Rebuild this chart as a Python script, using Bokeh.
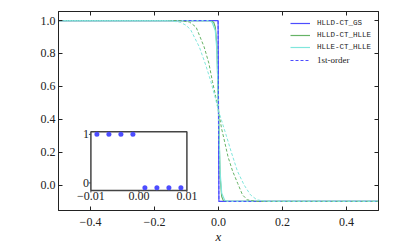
import math
from bokeh.plotting import figure
from bokeh.models import Range1d, LinearAxis, FixedTicker, Legend, LegendItem, Label, CustomLabelingPolicy
from bokeh.core.properties import value
from bokeh.embed import file_html
from bokeh.resources import INLINE

# ---- data ----
gs_x = [-0.5, -0.00125, 0.00125, 0.5]
gs_y = [1.0, 1.0, -0.1, -0.1]

hllde_x = [-0.5, -0.025, -0.015, -0.01, -0.005, 0.0, 0.005, 0.01, 0.015, 0.025, 0.5]
hllde_y = [1.0, 1.0, 0.99, 0.96, 0.85, 0.45, 0.05, -0.07, -0.095, -0.1, -0.1]

hlle_x = [-0.5, -0.03, -0.02, -0.01, -0.005, 0.0, 0.005, 0.01, 0.02, 0.03, 0.5]
hlle_y = [1.0, 1.0, 0.99, 0.94, 0.82, 0.45, 0.08, -0.05, -0.095, -0.1, -0.1]

gs1_x = [-0.5, -0.00125, 0.00125, 0.5]
gs1_y = [1.0, 1.0, -0.1, -0.1]

hllde1_x = [-0.5, -0.12, -0.09, -0.07, -0.045, -0.03, -0.019, -0.01, 0.0, 0.01, 0.016, 0.03, 0.044, 0.06, 0.075, 0.09, 0.12, 0.5]
hllde1_y = [1.0, 1.0, 0.99, 0.96, 0.84, 0.74, 0.63, 0.55, 0.45, 0.34, 0.29, 0.17, 0.085, 0.01, -0.06, -0.09, -0.1, -0.1]

hlle1_x = [-0.5, -0.16, -0.12, -0.1, -0.086, -0.06, -0.04, -0.024, -0.01, 0.0, 0.01, 0.026, 0.04, 0.059, 0.08, 0.1, 0.12, 0.15, 0.5]
hlle1_y = [1.0, 1.0, 0.99, 0.97, 0.94, 0.84, 0.73, 0.63, 0.53, 0.45, 0.39, 0.29, 0.2, 0.085, 0.0, -0.06, -0.09, -0.1, -0.1]

inset_x = [-0.00875, -0.00625, -0.00375, -0.00125, 0.00125, 0.00375, 0.00625, 0.00875]
inset_y = [1.0, 1.0, 1.0, 1.0, -0.1, -0.1, -0.1, -0.1]

x_ticks = [-0.4, -0.2, 0.0, 0.2, 0.4]
x_tick_labels = ["\u22120.4", "\u22120.2", "0.0", "0.2", "0.4"]
y_ticks = [0.0, 0.2, 0.4, 0.6, 0.8, 1.0]
y_tick_labels = ["0.0", "0.2", "0.4", "0.6", "0.8", "1.0"]
ix_ticks = [-0.01, 0.0, 0.01]
ix_tick_labels = ["\u22120.01", "0.00", "0.01"]
iy_ticks = [0.0, 1.0]
iy_tick_labels = ["0", "1"]

labels = ["HLLD-CT_GS", "HLLD-CT_HLLE", "HLLE-CT_HLLE", "1st-order"]

# axis limits
main_x = (-0.5, 0.5)
main_y = (-0.155, 1.055)
inset_xlim = (-0.01, 0.01)
inset_ylim = (-0.155, 1.055)
# inset box as fractions of the main frame (left, right, bottom, top)
inset_frac = (0.10125, 0.40125, 0.1007, 0.396)

BLUE = "#4d4dff"
GREEN = "#66b366"
CYAN = "#80e6dc"
SERIF = "Liberation Serif"
MONO = "Liberation Mono"
TXT = "#222222"

p = figure(frame_width=320, frame_height=199, output_backend="svg", toolbar_location=None,
           x_range=Range1d(*main_x), y_range=Range1d(*main_y),
           min_border_left=58, min_border_right=10, min_border_top=11, min_border_bottom=38)
p.grid.visible = False
p.outline_line_color = "#222222"
p.outline_line_width = 1
p.background_fill_color = "white"
p.border_fill_color = "white"

hide_labels = CustomLabelingPolicy(code="const a = [...indices]; for (const i of a) indices.unset(i); return indices;")

def style_axis(ax, ticks, tlabels, show_labels=True, size="12px"):
    ax.ticker = FixedTicker(ticks=ticks)
    ax.major_label_overrides = {t: l for t, l in zip(ticks, tlabels)}
    ax.minor_tick_line_color = None
    ax.major_tick_in = 4
    ax.major_tick_out = 0
    ax.major_tick_line_color = "#222222"
    ax.axis_line_color = "#222222"
    ax.major_label_text_font = SERIF
    ax.major_label_text_font_size = size
    ax.major_label_text_color = TXT
    if not show_labels:
        ax.major_label_text_font_size = "1px"
        ax.major_label_policy = hide_labels
        ax.major_label_standoff = 0

style_axis(p.xaxis[0], x_ticks, x_tick_labels)
style_axis(p.yaxis[0], y_ticks, y_tick_labels)
p.xaxis[0].major_label_standoff = 7
p.yaxis[0].major_label_standoff = 3
p.xaxis[0].axis_label = "x"
p.xaxis[0].axis_label_text_font = SERIF
p.xaxis[0].axis_label_text_font_style = "italic"
p.xaxis[0].axis_label_text_font_size = "13px"
p.xaxis[0].axis_label_standoff = 0
p.xaxis[0].axis_label_text_color = TXT

top_ax = LinearAxis()
style_axis(top_ax, x_ticks, x_tick_labels, show_labels=False)
p.add_layout(top_ax, "above")
right_ax = LinearAxis()
style_axis(right_ax, y_ticks, y_tick_labels, show_labels=False)
p.add_layout(right_ax, "right")

r_gs = p.line(gs_x, gs_y, line_color=BLUE, line_width=1.2)
r_hllde = p.line(hllde_x, hllde_y, line_color=GREEN, line_width=1.2)
r_hlle = p.line(hlle_x, hlle_y, line_color=CYAN, line_width=1.2)
r_gs1 = p.line(gs1_x, gs1_y, line_color=BLUE, line_width=1.0, line_dash="3 2")
r_hllde1 = p.line(hllde1_x, hllde1_y, line_color=GREEN, line_width=1.0, line_dash="3 2")
r_hlle1 = p.line(hlle1_x, hlle1_y, line_color=CYAN, line_width=1.0, line_dash="3 2")

common = dict(margin=0, padding=0, spacing=2, glyph_width=20, glyph_height=10, label_standoff=7,
              label_text_color=TXT, label_height=10, border_line_color=None, background_fill_alpha=0)
legend1 = Legend(items=[LegendItem(label=labels[0], renderers=[r_gs]),
                        LegendItem(label=labels[1], renderers=[r_hllde]),
                        LegendItem(label=labels[2], renderers=[r_hlle])],
                 location=(232, 158), label_text_font=MONO, label_text_font_size="7.5px", **common)
legend2 = Legend(items=[LegendItem(label=labels[3], renderers=[r_gs1])],
                 location=(232, 145), label_text_font=SERIF, label_text_font_size="9px", **common)
p.add_layout(legend1)
p.add_layout(legend2)

lb = Label(x=-34, y=94, x_units="screen", y_units="screen", text="B", angle=math.pi / 2,
           text_font=SERIF, text_font_style="italic", text_font_size="13px",
           text_align="center", text_baseline="middle", text_color=TXT)
ly = Label(x=-32, y=101, x_units="screen", y_units="screen", text="y", angle=math.pi / 2,
           text_font=SERIF, text_font_style="italic", text_font_size="9px",
           text_align="center", text_baseline="middle", text_color=TXT)
p.add_layout(lb)
p.add_layout(ly)

# ---- inset drawn on extra ranges of the main figure ----
fl, fr, fb, ft = inset_frac
ixw = (inset_xlim[1] - inset_xlim[0]) / (fr - fl)
ix_start = inset_xlim[0] - fl * ixw
iyh = (inset_ylim[1] - inset_ylim[0]) / (ft - fb)
iy_start = inset_ylim[0] - fb * iyh
p.extra_x_ranges = {"ix": Range1d(ix_start, ix_start + ixw)}
p.extra_y_ranges = {"iy": Range1d(iy_start, iy_start + iyh)}
I = dict(x_range_name="ix", y_range_name="iy")

p.quad(left=[inset_xlim[0]], right=[inset_xlim[1]], bottom=[inset_ylim[0]], top=[inset_ylim[1]],
       fill_color="white", line_color="#444444", line_width=1.5, **I)
tick_style = dict(length=2, length_units="screen", line_color="#444444", line_width=1)
p.ray(x=ix_ticks, y=[inset_ylim[0]] * len(ix_ticks), angle=-math.pi / 2, **tick_style, **I)
p.ray(x=[inset_xlim[0]] * len(iy_ticks), y=iy_ticks, angle=math.pi, **tick_style, **I)
p.text(x=ix_ticks, y=[inset_ylim[0]] * len(ix_ticks), text=ix_tick_labels, y_offset=2,
       text_align="center", text_baseline="top", text_font=value(SERIF), text_font_size="12px",
       text_color=TXT, **I)
p.text(x=[inset_xlim[0]] * len(iy_ticks), y=iy_ticks, text=iy_tick_labels, x_offset=-2,
       text_align="right", text_baseline="middle", text_font=value(SERIF), text_font_size="12px",
       text_color=TXT, **I)
p.scatter(inset_x, inset_y, size=5, color=BLUE, line_color=None, **I)

open("out.html", "w").write(file_html(p, INLINE))
